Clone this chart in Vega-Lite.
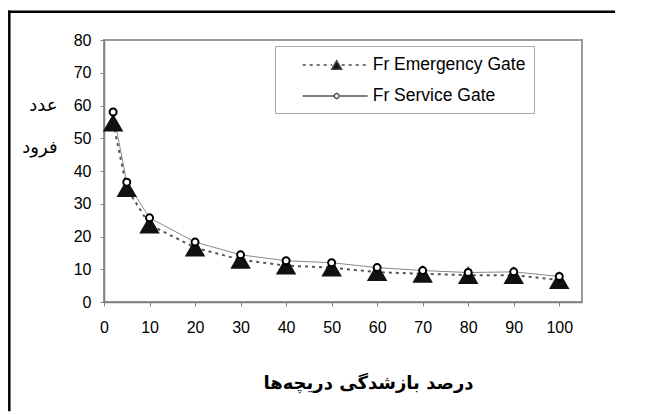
{
  "$schema": "https://vega.github.io/schema/vega-lite/v6.json",
  "width": 478,
  "height": 262,
  "autosize": {"type": "none"},
  "padding": {"left": 104, "top": 40, "right": 64, "bottom": 112},
  "background": "white",
  "config": {
    "view": {"stroke": "#9a9a9a", "strokeWidth": 2},
    "font": "Liberation Sans",
    "axis": {
      "grid": false,
      "domainColor": "#808080",
      "domainWidth": 1.5,
      "tickColor": "#808080",
      "tickSize": 4,
      "labelFont": "Liberation Sans",
      "labelFontSize": 16,
      "labelColor": "#000",
      "labelOverlap": false,
      "labelFlush": false
    }
  },
  "data": {
    "values": [
      {"x": 2, "y": 54.8, "series": "Fr Emergency Gate"},
      {"x": 5, "y": 34.8, "series": "Fr Emergency Gate"},
      {"x": 10, "y": 23.6, "series": "Fr Emergency Gate"},
      {"x": 20, "y": 16.6, "series": "Fr Emergency Gate"},
      {"x": 30, "y": 12.9, "series": "Fr Emergency Gate"},
      {"x": 40, "y": 11.1, "series": "Fr Emergency Gate"},
      {"x": 50, "y": 10.5, "series": "Fr Emergency Gate"},
      {"x": 60, "y": 9.1, "series": "Fr Emergency Gate"},
      {"x": 70, "y": 8.6, "series": "Fr Emergency Gate"},
      {"x": 80, "y": 8.2, "series": "Fr Emergency Gate"},
      {"x": 90, "y": 8.2, "series": "Fr Emergency Gate"},
      {"x": 100, "y": 6.7, "series": "Fr Emergency Gate"},
      {"x": 2, "y": 58.0, "series": "Fr Service Gate"},
      {"x": 5, "y": 36.6, "series": "Fr Service Gate"},
      {"x": 10, "y": 25.7, "series": "Fr Service Gate"},
      {"x": 20, "y": 18.3, "series": "Fr Service Gate"},
      {"x": 30, "y": 14.4, "series": "Fr Service Gate"},
      {"x": 40, "y": 12.6, "series": "Fr Service Gate"},
      {"x": 50, "y": 12.0, "series": "Fr Service Gate"},
      {"x": 60, "y": 10.5, "series": "Fr Service Gate"},
      {"x": 70, "y": 9.6, "series": "Fr Service Gate"},
      {"x": 80, "y": 9.0, "series": "Fr Service Gate"},
      {"x": 90, "y": 9.2, "series": "Fr Service Gate"},
      {"x": 100, "y": 7.8, "series": "Fr Service Gate"}
    ]
  },
  "layer": [
    {
      "transform": [{"filter": "datum.series === 'Fr Service Gate'"}],
      "mark": {"type": "line", "color": "#8a8a8a", "strokeWidth": 1},
      "encoding": {
        "x": {
          "field": "x", "type": "quantitative",
          "scale": {"domain": [0, 105], "nice": false, "zero": false},
          "axis": {
            "values": [0, 10, 20, 30, 40, 50, 60, 70, 80, 90, 100],
            "labelOverlap": false,
            "labelPadding": 13,
            "title": "درصد بازشدگی دریچه\u200cها",
            "titleFont": "DejaVu Sans",
            "titleFontSize": 18,
            "titleFontWeight": "bold",
            "titleColor": "#000",
            "titleX": 264,
            "titleY": 81,
            "titleAlign": "center",
            "titleBaseline": "middle"
          }
        },
        "y": {
          "field": "y", "type": "quantitative",
          "scale": {"domain": [0, 80], "nice": false},
          "axis": {
            "values": [0, 10, 20, 30, 40, 50, 60, 70, 80],
            "tickCount": 9,
            "labelOverlap": false,
            "labelPadding": 9,
            "title": ["عدد", "فرود"],
            "titleAngle": 0,
            "titleFont": "DejaVu Sans",
            "titleFontSize": 18,
            "titleFontWeight": "normal",
            "titleColor": "#000",
            "titleX": -47,
            "titleY": 65,
            "titleAlign": "right",
            "titleBaseline": "middle",
            "titleLineHeight": 42
          }
        }
      }
    },
    {
      "data": {"values": [{"frame": 1}]},
      "mark": {"type": "rule", "stroke": "#000", "strokeWidth": 2.5, "strokeCap": "square", "clip": false},
      "encoding": {
        "x": {"datum": -20.8, "type": "quantitative", "scale": {"domain": [0, 105], "nice": false, "zero": false}},
        "x2": {"datum": 112},
        "y": {"datum": 88.6, "type": "quantitative", "scale": {"domain": [0, 80], "nice": false}}
      }
    },
    {
      "data": {"values": [{"frame": 1}]},
      "mark": {"type": "rule", "stroke": "#000", "strokeWidth": 2.5, "strokeCap": "square", "clip": false},
      "encoding": {
        "x": {"datum": -20.8, "type": "quantitative", "scale": {"domain": [0, 105], "nice": false, "zero": false}},
        "y": {"datum": 88.6, "type": "quantitative", "scale": {"domain": [0, 80], "nice": false}},
        "y2": {"datum": -33}
      }
    },
    {
      "transform": [{"filter": "datum.series === 'Fr Emergency Gate'"}],
      "mark": {"type": "line", "color": "#555", "strokeWidth": 2, "strokeDash": [3, 4]},
      "encoding": {
        "x": {"field": "x", "type": "quantitative", "scale": {"domain": [0, 105], "nice": false, "zero": false}},
        "y": {"field": "y", "type": "quantitative", "scale": {"domain": [0, 80], "nice": false}}
      }
    },
    {
      "transform": [{"filter": "datum.series === 'Fr Emergency Gate'"}],
      "mark": {"type": "point", "shape": "triangle-up", "filled": true, "color": "#111", "size": 420, "opacity": 1},
      "encoding": {
        "x": {"field": "x", "type": "quantitative", "scale": {"domain": [0, 105], "nice": false, "zero": false}},
        "y": {"field": "y", "type": "quantitative", "scale": {"domain": [0, 80], "nice": false}}
      }
    },
    {
      "transform": [{"filter": "datum.series === 'Fr Service Gate'"}],
      "mark": {"type": "point", "shape": "circle", "filled": true, "fill": "#fff", "stroke": "#000", "strokeWidth": 2, "size": 49, "opacity": 1},
      "encoding": {
        "x": {"field": "x", "type": "quantitative", "scale": {"domain": [0, 105], "nice": false, "zero": false}},
        "y": {"field": "y", "type": "quantitative", "scale": {"domain": [0, 80], "nice": false}}
      }
    },
    {
      "transform": [{"filter": "false"}],
      "mark": {"type": "point", "filled": true, "opacity": 1, "strokeWidth": 1.2},
      "encoding": {
        "shape": {
          "field": "series", "type": "nominal",
          "scale": {
            "domain": ["Fr Emergency Gate", "Fr Service Gate"],
            "range": [
              "M-3.4,0L-3.1,0M-2.7,0L-2.4,0M-2.0,0L-1.7,0M-1.3,0L-1.0,0M-0.6,0L-0.45,0M0.5,0L0.8,0M1.2,0L1.5,0M1.9,0L2.2,0M2.6,0L2.9,0M0,-0.42L0.49,0.42L-0.49,0.42Z",
              "M-3.4,0L-0.26,0M0.26,0L3.1,0M0.26,0L0.18,0.18L0,0.26L-0.18,0.18L-0.26,0L-0.18,-0.18L0,-0.26L0.18,-0.18Z"
            ]
          },
          "legend": {
            "title": " ", "titleOrient": "left", "titlePadding": 42.7, "titleFontSize": 17,
            "orient": "none", "legendX": 171, "legendY": 6,
            "padding": 8, "strokeColor": "#aaa", "fillColor": "#fff",
            "labelFont": "Liberation Sans", "labelFontSize": 17.5, "labelColor": "#000",
            "labelOffset": 25, "rowPadding": 11, "symbolSize": 400, "labelLimit": 300
          }
        },
        "fill": {
          "field": "series", "type": "nominal",
          "scale": {"domain": ["Fr Emergency Gate", "Fr Service Gate"], "range": ["#111", "#fff"]},
          "legend": {
            "title": " ", "titleOrient": "left", "titlePadding": 42.7, "titleFontSize": 17,
            "orient": "none", "legendX": 171, "legendY": 6,
            "padding": 8, "strokeColor": "#aaa", "fillColor": "#fff",
            "labelFont": "Liberation Sans", "labelFontSize": 17.5, "labelColor": "#000",
            "labelOffset": 25, "rowPadding": 11, "symbolSize": 400, "labelLimit": 300
          }
        },
        "stroke": {
          "field": "series", "type": "nominal",
          "scale": {"domain": ["Fr Emergency Gate", "Fr Service Gate"], "range": ["#444", "#555"]},
          "legend": {
            "title": " ", "titleOrient": "left", "titlePadding": 42.7, "titleFontSize": 17,
            "orient": "none", "legendX": 171, "legendY": 6,
            "padding": 8, "strokeColor": "#aaa", "fillColor": "#fff",
            "labelFont": "Liberation Sans", "labelFontSize": 17.5, "labelColor": "#000",
            "labelOffset": 25, "rowPadding": 11, "symbolSize": 400, "labelLimit": 300
          }
        }
      }
    }
  ]
}
